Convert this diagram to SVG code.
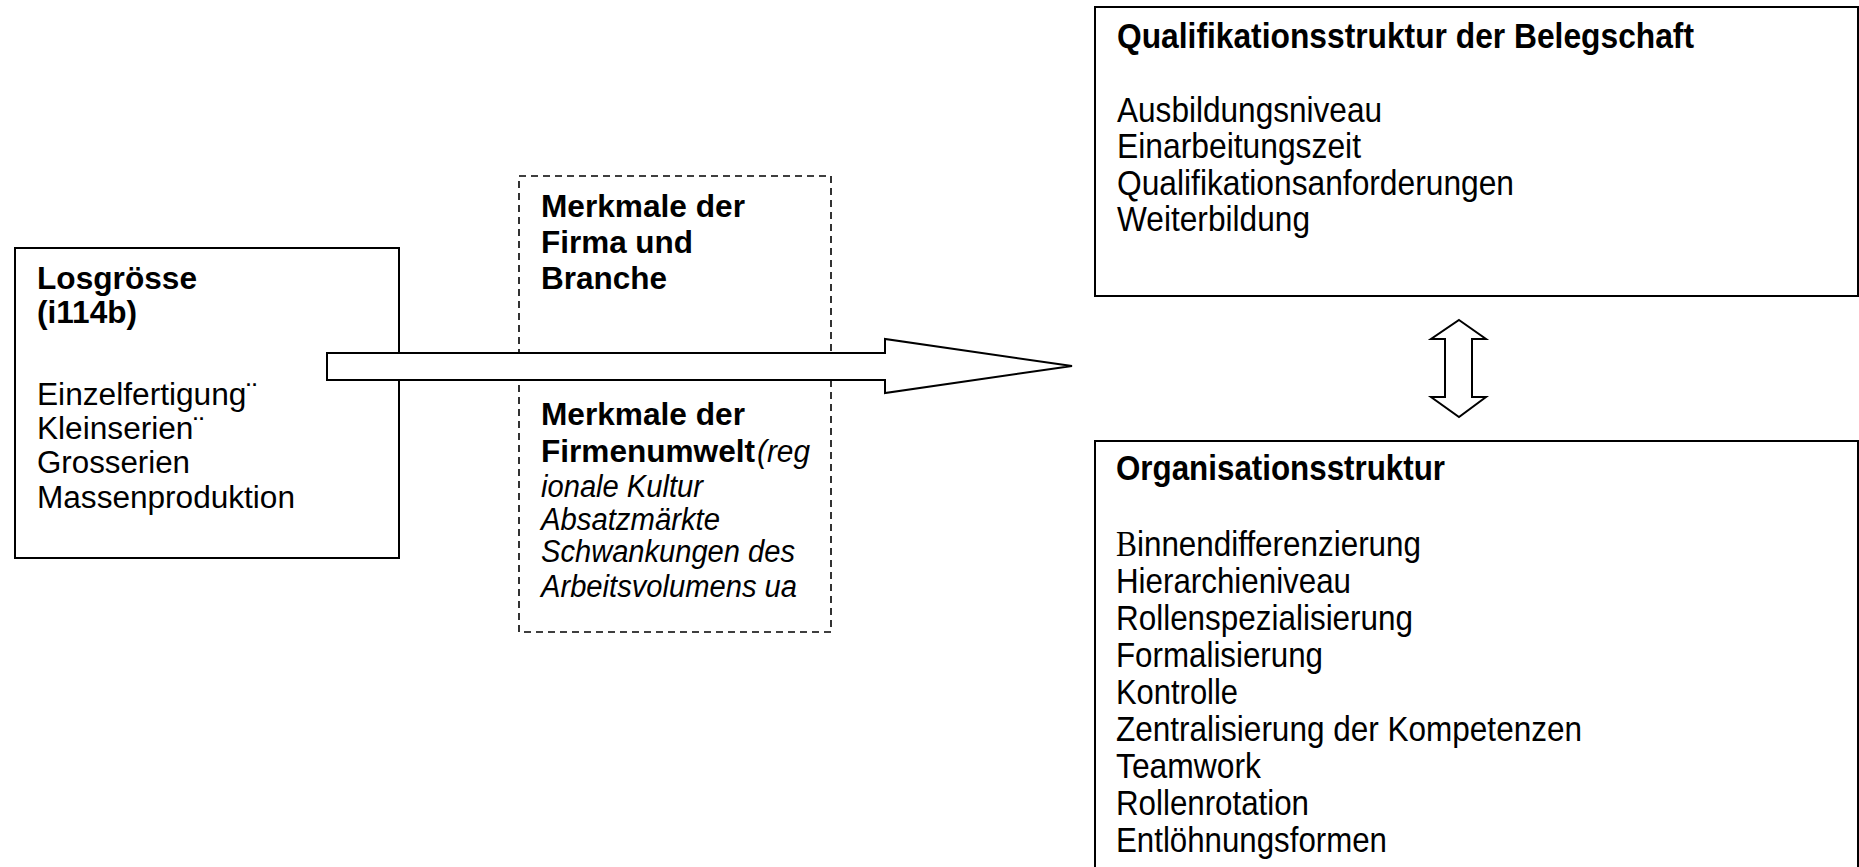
<svg xmlns="http://www.w3.org/2000/svg" width="1859" height="867" viewBox="0 0 1859 867">
<style>
.box{fill:#fff;stroke:#000;stroke-width:2}
.dash{fill:none;stroke:#000;stroke-width:1.6;stroke-dasharray:7 5}
.arrow{fill:#fff;stroke:#000;stroke-width:2;stroke-linejoin:miter}
text{font-family:"Liberation Sans",Arial,sans-serif;fill:#000}
.l{font-size:31px}
.r{font-size:35px}
.b{font-weight:bold}
.i{font-style:italic}
.serif{font-family:"Liberation Serif","Times New Roman",serif}
</style>
<rect width="1859" height="867" fill="#fff"/>
<g id="node-losgroesse">
<rect class="box" x="15" y="248" width="384" height="310"/>
<text class="l b" x="37" y="289" textLength="160" lengthAdjust="spacingAndGlyphs">Losgrösse</text>
<text class="l b" x="37" y="323" textLength="100" lengthAdjust="spacingAndGlyphs">(i114b)</text>
<text class="l" x="37" y="405" textLength="220" lengthAdjust="spacingAndGlyphs">Einzelfertigung¨</text>
<text class="l" x="37" y="439" textLength="167" lengthAdjust="spacingAndGlyphs">Kleinserien¨</text>
<text class="l" x="37" y="473" textLength="153" lengthAdjust="spacingAndGlyphs">Grosserien</text>
<text class="l" x="37" y="508" textLength="258" lengthAdjust="spacingAndGlyphs">Massenproduktion</text>
</g>
<g id="node-merkmale">
<rect class="dash" x="519" y="176" width="312" height="456"/>
<text class="l b" x="541" y="217" textLength="204" lengthAdjust="spacingAndGlyphs">Merkmale der</text>
<text class="l b" x="541" y="253" textLength="152" lengthAdjust="spacingAndGlyphs">Firma und</text>
<text class="l b" x="541" y="289" textLength="126" lengthAdjust="spacingAndGlyphs">Branche</text>
<text class="l b" x="541" y="425" textLength="204" lengthAdjust="spacingAndGlyphs">Merkmale der</text>
<text class="l b" x="541" y="462" textLength="214" lengthAdjust="spacingAndGlyphs">Firmenumwelt</text>
<text class="l i" x="757" y="462" textLength="53" lengthAdjust="spacingAndGlyphs">(reg</text>
<text class="l i" x="541" y="497" textLength="162" lengthAdjust="spacingAndGlyphs">ionale Kultur</text>
<text class="l i" x="541" y="530" textLength="179" lengthAdjust="spacingAndGlyphs">Absatzmärkte</text>
<text class="l i" x="541" y="562" textLength="254" lengthAdjust="spacingAndGlyphs">Schwankungen des</text>
<text class="l i" x="541" y="597" textLength="256" lengthAdjust="spacingAndGlyphs">Arbeitsvolumens ua</text>
</g>
<g id="node-qualifikation">
<rect class="box" x="1095" y="7" width="763" height="289"/>
<text class="r b" x="1117" y="48" textLength="577" lengthAdjust="spacingAndGlyphs">Qualifikationsstruktur der Belegschaft</text>
<text class="r" x="1117" y="122" textLength="265" lengthAdjust="spacingAndGlyphs">Ausbildungsniveau</text>
<text class="r" x="1117" y="158" textLength="244" lengthAdjust="spacingAndGlyphs">Einarbeitungszeit</text>
<text class="r" x="1117" y="195" textLength="397" lengthAdjust="spacingAndGlyphs">Qualifikationsanforderungen</text>
<text class="r" x="1117" y="231" textLength="193" lengthAdjust="spacingAndGlyphs">Weiterbildung</text>
</g>
<g id="node-organisation">
<rect class="box" x="1095" y="441" width="763" height="440"/>
<text class="r b" x="1116" y="480" textLength="329" lengthAdjust="spacingAndGlyphs">Organisationsstruktur</text>
<text class="r" x="1116" y="556" textLength="305" lengthAdjust="spacingAndGlyphs"><tspan class="serif">B</tspan>innendifferenzierung</text>
<text class="r" x="1116" y="593" textLength="235" lengthAdjust="spacingAndGlyphs">Hierarchieniveau</text>
<text class="r" x="1116" y="630" textLength="297" lengthAdjust="spacingAndGlyphs">Rollenspezialisierung</text>
<text class="r" x="1116" y="667" textLength="207" lengthAdjust="spacingAndGlyphs">Formalisierung</text>
<text class="r" x="1116" y="704" textLength="122" lengthAdjust="spacingAndGlyphs">Kontrolle</text>
<text class="r" x="1116" y="741" textLength="466" lengthAdjust="spacingAndGlyphs">Zentralisierung der Kompetenzen</text>
<text class="r" x="1116" y="778" textLength="145" lengthAdjust="spacingAndGlyphs">Teamwork</text>
<text class="r" x="1116" y="815" textLength="193" lengthAdjust="spacingAndGlyphs">Rollenrotation</text>
<text class="r" x="1116" y="852" textLength="271" lengthAdjust="spacingAndGlyphs">Entlöhnungsformen</text>
</g>
<g id="connectors">
<polygon class="arrow" points="327,353 885,353 885,339 1072,366 885,393 885,380 327,380"/>
<polygon class="arrow" points="1459,320 1486,339 1472,339 1472,397 1486,397 1459,417 1431,397 1445,397 1445,339 1431,339"/>
</g>
</svg>
